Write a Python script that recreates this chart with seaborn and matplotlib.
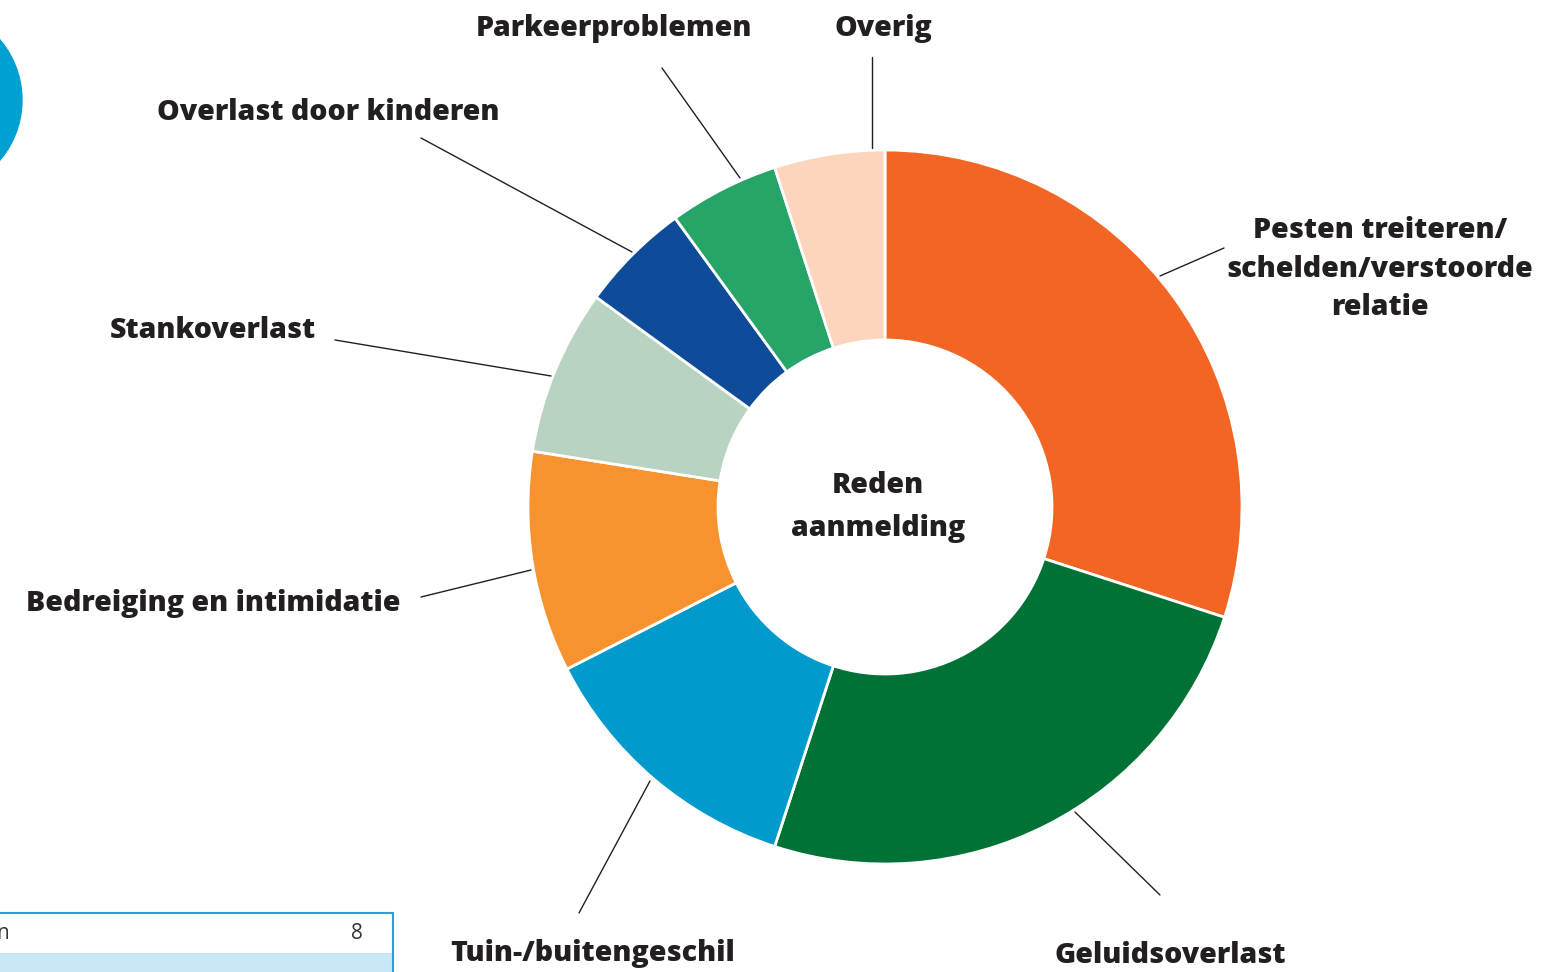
import matplotlib
matplotlib.use("Agg")
import matplotlib.pyplot as plt
from matplotlib.patches import Circle, Rectangle
import seaborn as sns

# ---- data ----
categories = [
    "Pesten treiteren/\nschelden/verstoorde\nrelatie",
    "Geluidsoverlast",
    "Tuin-/buitengeschil",
    "Bedreiging en intimidatie",
    "Stankoverlast",
    "Overlast door kinderen",
    "Parkeerproblemen",
    "Overig",
]
values = [30, 25, 12.5, 10, 7.5, 5, 5, 5]
center_title = "Reden\naanmelding"
table_label = "n"
table_value = "8"

# ---- styles / layout ----
colors = ["#F26522", "#007236", "#009BCC", "#F7932F",
          "#B8D3C1", "#0E4C9A", "#27A468", "#FDD4BC"]
label_pos = [(1380, 269), (1170, 955), (593, 953), (213, 603),
             (213, 330), (328, 112), (614, 28), (883, 28)]
leader_lines = [((1160, 276), (1224, 248)), ((1075, 812), (1160, 895)),
                ((650, 781), (579, 913)), ((531, 570), (421, 597)),
                ((551, 376), (335, 340)), ((632, 252), (421, 138)),
                ((740, 178), (662, 68)), ((872, 148), (872, 57))]

sns.set_theme(style="white")
plt.rcParams['font.family'] = ['Open Sans', 'DejaVu Sans']
TXT = "#231F20"
FS = 20.5

fig = plt.figure(figsize=(15.42, 9.72), dpi=100)
ax = fig.add_axes([0, 0, 1, 1])

ax.pie(values, colors=colors, center=(885, 507), radius=357,
       startangle=270, counterclock=True,
       wedgeprops=dict(width=190, edgecolor="white", linewidth=2))
ax.set_xlim(0, 1542)
ax.set_ylim(972, 0)
ax.set_aspect("equal")
ax.set_axis_off()

for lab, (x, y), ((x0, y0), (x1, y1)) in zip(categories, label_pos, leader_lines):
    ax.plot([x0, x1], [y0, y1], color=TXT, lw=1.0)
    ax.text(x, y, lab, ha="center", va="center", fontsize=FS,
            fontweight="heavy", color=TXT, linespacing=1.43)

ax.text(878, 507, center_title, ha="center", va="center", fontsize=FS,
        fontweight="heavy", color=TXT, linespacing=1.68)

# decorative fragments at the left edge
ax.add_patch(Circle((-71, 100), 93, color="#00A0D2", clip_on=True))
ax.add_patch(Rectangle((-10, 953), 403, 40, facecolor="#C8E8F8",
                       edgecolor="none"))
ax.add_patch(Rectangle((-10, 913), 403, 80, facecolor="none",
                       edgecolor="#2A9FD6", lw=1.5))
ax.text(-4, 933, table_label, ha="left", va="center", fontsize=15,
        color="#333333")
ax.text(357, 933, table_value, ha="center", va="center", fontsize=15,
        color="#333333")

fig.savefig("out.png", dpi=100)
